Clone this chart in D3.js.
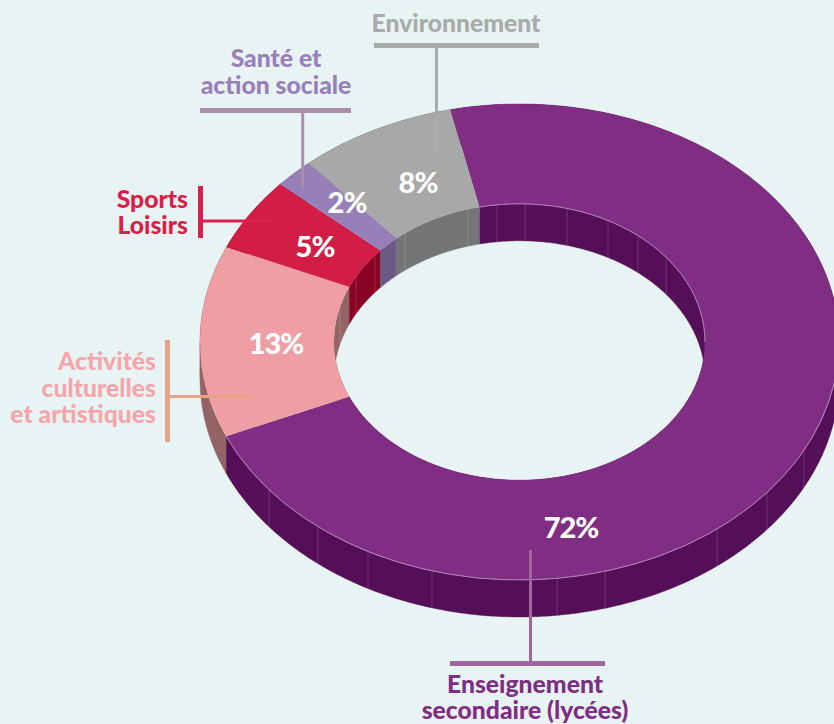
<!DOCTYPE html>
<html>
<head>
<meta charset="utf-8">
<script src="https://cdnjs.cloudflare.com/ajax/libs/d3/7.8.5/d3.min.js"></script>
<style>
html,body{margin:0;padding:0;background:#e8f3f3;overflow:hidden}
svg{display:block}
text{font-family:"Lato","Noto Sans",sans-serif;font-weight:900}
</style>
</head>
<body>
<div id="chart"></div>
<script>
const categories = ["Enseignement secondaire (lycées)", "Activités culturelles et artistiques", "Sports Loisirs", "Santé et action sociale", "Environnement"];
const values = [72, 13, 5, 2, 8];
const valueLabels = ["72%", "13%", "5%", "2%", "8%"];
const topColors = ["#802d84", "#ef9fa3", "#d21d45", "#977fb7", "#a8a8a8"];
const wallColors = ["#550e58", "#946366", "#880424", "#6a5a85", "#747576"];
const textColors = ["#802d84", "#f6a6aa", "#d81f48", "#9980bb", "#a9abaa"];
const leaderColors = ["#a0659f", "#e8a288", "#dc1f4c", "#aa8eac", "#a9abaa"];
const labelLines = [["Enseignement", "secondaire (lycées)"], ["Activités", "culturelles", "et artistiques"], ["Sports", "Loisirs"], ["Santé et", "action sociale"], ["Environnement"]];

const W = 834, H = 724, cx = 519.5, cy = 342, rx = 319.5, ry = 238, innerRx = 185.5, depth = 37;
const tilt = ry / rx, startDeg = -12.5;

const labelLayout = [
  {x: 525, anchor: "middle", y: [693, 719]},
  {x: 156, anchor: "end", y: [370, 397, 423]},
  {x: 188, anchor: "end", y: [208, 234]},
  {x: 276, anchor: "middle", y: [67, 94]},
  {x: 456, anchor: "middle", y: [32]}
];
const valuePos = [[571, 538], [276, 354], [315, 257], [347, 213], [418, 193]];
const leaders = [
  [[450, 663.5, 605, 663.5, 5], [530.5, 550, 530.5, 661, 3]],
  [[167.5, 340, 167.5, 442, 5], [170, 396.5, 251, 396.5, 3]],
  [[200.5, 186, 200.5, 238, 5], [203, 221, 275, 221, 3]],
  [[200, 110.5, 351, 110.5, 5], [302.7, 113, 302.7, 188, 3]],
  [[374, 45.5, 539, 45.5, 5], [436.5, 48, 436.5, 158, 3]]
];
const outerSeams = [269, 318, 368, 432, 557, 605, 717, 767, 804];
const innerSeams = [340, 356, 375, 396, 405, 468, 497, 525, 567, 608, 638, 666, 705];

const svg = d3.select("#chart").append("svg").attr("width", W).attr("height", H).attr("viewBox", `0 0 ${W} ${H}`);
svg.append("rect").attr("width", W).attr("height", H).attr("fill", "#e8f3f3");

const pie = d3.pie().sort(null).startAngle(startDeg * Math.PI / 180).endAngle((startDeg + 360) * Math.PI / 180);
const slices = pie(values);
const arc = d3.arc().innerRadius(innerRx).outerRadius(rx);

// walls: each slice's rim swept down by the depth of the ring
const wallArea = r => d3.area()
  .x(a => cx + r * Math.sin(a))
  .y0(a => cy - r * tilt * Math.cos(a))
  .y1(a => cy - r * tilt * Math.cos(a) + depth);
const anglesOf = d => {
  const n = Math.ceil((d.endAngle - d.startAngle) / 0.01);
  return d3.range(n + 1).map(k => d.startAngle + (d.endAngle - d.startAngle) * k / n);
};
[rx, innerRx].forEach(r => {
  const area = wallArea(r);
  slices.forEach((d, i) => {
    // split at the extremes of the ellipse so that every piece is a clean band
    const angles = anglesOf(d);
    const turns = [Math.PI / 2, 3 * Math.PI / 2];
    const pieces = [[]];
    angles.forEach((a, k) => {
      pieces[pieces.length - 1].push(a);
      if (k > 0 && turns.some(t => angles[k - 1] < t && a >= t)) pieces.push([a]);
    });
    svg.append("g").selectAll("path").data(pieces.filter(p => p.length > 1)).join("path")
      .attr("d", p => area(p)).attr("fill", wallColors[i])
      .attr("stroke", wallColors[i]).attr("stroke-width", 0.4);
  });
});

// facet seams on the walls
const yAt = (x, r) => Math.sqrt(Math.max(0, 1 - ((x - cx) / r) ** 2)) * r * tilt;
svg.append("g").selectAll("line").data(outerSeams).join("line")
  .attr("x1", d => d).attr("x2", d => d)
  .attr("y1", d => cy + yAt(d, rx)).attr("y2", d => cy + yAt(d, rx) + depth)
  .attr("stroke", "#fff").attr("stroke-opacity", 0.2).attr("stroke-width", 0.8);
svg.append("g").selectAll("line").data(innerSeams).join("line")
  .attr("x1", d => d).attr("x2", d => d)
  .attr("y1", d => cy - yAt(d, innerRx)).attr("y2", d => cy - yAt(d, innerRx) + depth)
  .attr("stroke", "#fff").attr("stroke-opacity", 0.2).attr("stroke-width", 0.8);

// top surface
const topFace = svg.append("g").attr("transform", `translate(${cx},${cy}) scale(1,${tilt})`);
topFace.selectAll("path.slice").data(slices).join("path").attr("class", "slice")
  .attr("d", arc).attr("fill", (d, i) => topColors[i]);

// light rim only where the purple slice meets a visible wall
const quarter = Math.PI / 2;
const rims = [
  {r: rx, startAngle: quarter, endAngle: slices[0].endAngle},
  {r: innerRx, startAngle: slices[0].startAngle, endAngle: quarter}
];
topFace.selectAll("path.rim").data(rims).join("path").attr("class", "rim")
  .attr("d", d => d3.arc().innerRadius(d.r).outerRadius(d.r)(d))
  .attr("fill", "none").attr("stroke", "#c39ac6").attr("stroke-opacity", 0.6)
  .attr("stroke-width", 0.8).attr("vector-effect", "non-scaling-stroke");

// leaders
leaders.forEach((group, i) => {
  svg.append("g").selectAll("line").data(group).join("line")
    .attr("x1", d => d[0]).attr("y1", d => d[1]).attr("x2", d => d[2]).attr("y2", d => d[3])
    .attr("stroke-width", d => d[4]).attr("stroke", leaderColors[i]);
});

// category labels
labelLines.forEach((lines, i) => {
  const l = labelLayout[i];
  svg.append("g").selectAll("text").data(lines).join("text")
    .attr("x", l.x).attr("y", (d, j) => l.y[j]).attr("text-anchor", l.anchor)
    .attr("font-size", 24.7).attr("fill", textColors[i]).text(d => d);
});

// value labels
svg.append("g").selectAll("text").data(valueLabels).join("text")
  .attr("x", (d, i) => valuePos[i][0]).attr("y", (d, i) => valuePos[i][1])
  .attr("text-anchor", "middle").attr("font-size", 29).attr("letter-spacing", -1)
  .attr("fill", "#fff").text(d => d);
</script>
</body>
</html>
